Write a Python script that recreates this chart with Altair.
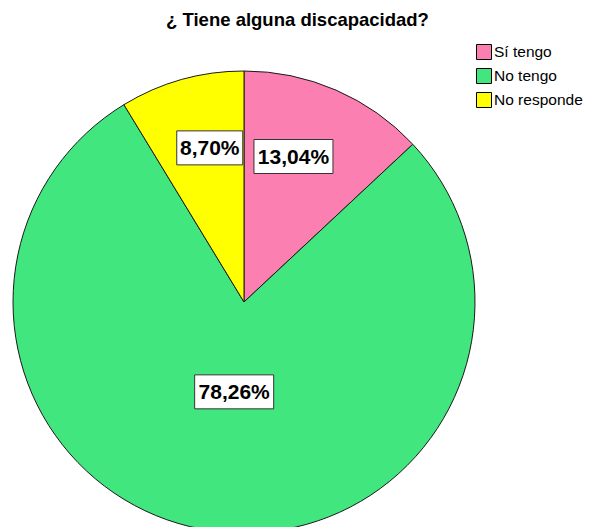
import altair as alt
import pandas as pd

categorias = ["Sí tengo", "No tengo", "No responde"]
porcentajes = [13.04, 78.26, 8.70]
etiquetas = ["13,04%", "78,26%", "8,70%"]
orden = [1, 2, 3]
colores = ["#fc7fb2", "#41e77e", "#ffff00"]

df = pd.DataFrame({"categoria": categorias, "valor": porcentajes,
                   "etiqueta": etiquetas, "orden": orden})

W, H = 579, 493
CX, CY, R = 236, 268, 231

base = alt.Chart(df)

pie = base.mark_arc(stroke="#1a1a1a", strokeWidth=1, radius=R).encode(
    theta=alt.Theta("valor:Q", stack=True),
    order=alt.Order("orden:Q"),
    color=alt.Color("categoria:N",
                    scale=alt.Scale(domain=categorias, range=colores),
                    sort=categorias,
                    legend=alt.Legend(title=None, orient="none", legendX=468, legendY=10,
                                      symbolType="square", symbolSize=225,
                                      symbolStrokeColor="black", symbolStrokeWidth=1,
                                      labelFont="Liberation Sans", labelFontSize=15.5,
                                      labelColor="black", rowPadding=4, labelOffset=2,
                                      labelLimit=200, symbolOpacity=1)),
    x=alt.value(CX), y=alt.value(CY),
)

lab = base.transform_joinaggregate(total="sum(valor)").transform_window(
    cum="sum(valor)", sort=[alt.SortField("orden")], frame=[None, 0]
).transform_calculate(
    frac="datum.valor / datum.total",
    mid="(datum.cum - datum.valor / 2) / datum.total * 2 * PI",
).transform_calculate(
    near="datum.mid < PI / 2 ? 0 : (datum.mid < 3 * PI / 2 ? PI : 2 * PI)",
    rr=f"{R} * (0.72 - 0.42 * datum.frac)",
).transform_calculate(
    ang="datum.near + 0.8 * (datum.mid - datum.near)",
).transform_calculate(
    lx=f"{CX} + datum.rr * sin(datum.ang)",
    ly=f"{CY} - datum.rr * cos(datum.ang)",
    bw="13 * length(datum.etiqueta) + 1",
).transform_calculate(
    x1="datum.lx - datum.bw / 2", x2="datum.lx + datum.bw / 2",
    y1="datum.ly - 17", y2="datum.ly + 17",
)

boxes = lab.mark_rect(fill="white", stroke="#333333", strokeWidth=1).encode(
    x=alt.X("x1:Q", scale=None), x2="x2:Q",
    y=alt.Y("y1:Q", scale=None), y2="y2:Q",
)

texts = lab.mark_text(font="Liberation Sans", fontWeight="bold", fontSize=21,
                      color="black", baseline="middle", align="center", dy=1).encode(
    x=alt.X("lx:Q", scale=None), y=alt.Y("ly:Q", scale=None),
    text="etiqueta:N",
)

chart = alt.layer(pie, boxes, texts).properties(
    width=W, height=H,
    title=alt.TitleParams("¿ Tiene alguna discapacidad?", font="Liberation Sans",
                          fontSize=18.5, fontWeight="bold", color="black",
                          anchor="middle", offset=5),
    autosize=alt.AutoSizeParams(type="none"),
    padding={"left": 0, "top": 26, "right": 0, "bottom": 0},
).configure_view(stroke=None)

chart.save("out.html", embed_options={"renderer": "svg", "actions": False})
